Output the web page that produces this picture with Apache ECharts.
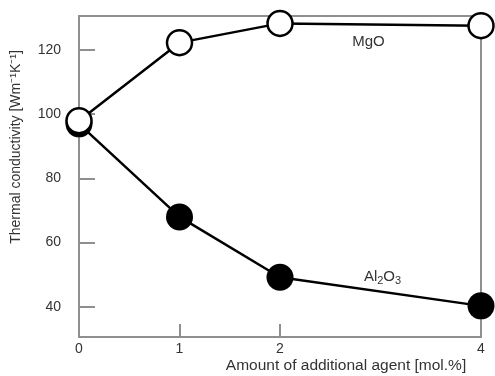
<!DOCTYPE html>
<html><head><meta charset="utf-8">
<script src="https://cdn.jsdelivr.net/npm/echarts@6/dist/echarts.min.js"></script>
<style>html,body{margin:0;padding:0;background:#fff}#c{width:495px;height:376px}</style>
</head><body><div id="c"></div>
<script>
const xValues = [0, 1, 2, 4];
const mgoValues = [98, 122.3, 128.3, 127.6];
const al2o3Values = [97, 68, 49.2, 40.3];
const xTickLabels = [0, 1, 2, 4];
const xTicks = [1, 2];
const yTicks = [40, 60, 80, 100, 120];
const xName = 'Amount of additional agent [mol.%]';
const yName = 'Thermal conductivity [Wm⁻¹K⁻¹]';

const FONT = 'Liberation Sans, Arial, sans-serif';
const AX = '#8f8f8f';
const chart = echarts.init(document.getElementById('c'), null, {renderer: 'canvas'});
const option = {
  animation: false,
  backgroundColor: '#fff',
  grid: {left: 79, right: 14, top: 16, bottom: 39, show: true, borderColor: AX, borderWidth: 2, backgroundColor: 'transparent'},
  xAxis: {
    type: 'value', min: 0, max: 4, interval: 1,
    axisLine: {show: true, lineStyle: {color: AX, width: 2}},
    axisTick: {show: true, inside: true, length: 13, lineStyle: {color: AX, width: 2}, customValues: xTicks},
    axisLabel: {color: '#333', fontSize: 14, fontFamily: FONT, margin: 5, customValues: xTickLabels},
    splitLine: {show: false}
  },
  yAxis: {
    type: 'value', min: 30.6, max: 130.6,
    axisLine: {show: true, lineStyle: {color: AX, width: 2}},
    axisTick: {show: true, inside: true, length: 16, lineStyle: {color: AX, width: 2}, customValues: yTicks},
    axisLabel: {color: '#333', fontSize: 14, fontFamily: FONT, margin: 18, customValues: yTicks},
    splitLine: {show: false}
  },
  series: [
    {
      name: 'Al2O3', type: 'line', z: 2,
      data: xValues.map((x, i) => [x, al2o3Values[i]]),
      symbol: 'circle', symbolSize: 27,
      itemStyle: {color: '#000', borderColor: '#000', borderWidth: 0},
      lineStyle: {color: '#000', width: 2.5}
    },
    {
      name: 'MgO', type: 'line', z: 3,
      data: xValues.map((x, i) => [x, mgoValues[i]]),
      symbol: 'circle', symbolSize: 25,
      itemStyle: {color: '#fff', borderColor: '#000', borderWidth: 2.5},
      lineStyle: {color: '#000', width: 2.5}
    }
  ]
};
chart.setOption(option);

const pMg = chart.convertToPixel({gridIndex: 0}, [2.88, 122.4]);
const pAl = chart.convertToPixel({gridIndex: 0}, [3.02, 49.3]);
chart.setOption({
  graphic: [
    {type: 'text', x: pMg[0], y: pMg[1], style: {text: 'MgO', fill: '#333', font: '15px ' + FONT, align: 'center', verticalAlign: 'middle'}},
    {type: 'text', x: pAl[0], y: pAl[1], style: {
      text: '{a|Al}{s|2}{a|O}{s|3}', align: 'center', verticalAlign: 'middle',
      rich: {a: {fill: '#333', font: '15px ' + FONT, verticalAlign: 'middle', lineHeight: 18},
             s: {fill: '#333', font: '11px ' + FONT, verticalAlign: 'bottom', lineHeight: 18, padding: [8, 0, 0, 0]}}
    }},
    {type: 'text', x: 16, y: 147, rotation: Math.PI / 2, style: {text: yName, fill: '#333', font: '14px ' + FONT, align: 'center', verticalAlign: 'middle'}},
    {type: 'text', x: 346, y: 366, style: {text: xName, fill: '#333', font: '15.5px ' + FONT, align: 'center', verticalAlign: 'middle'}}
  ]
});
</script></body></html>
